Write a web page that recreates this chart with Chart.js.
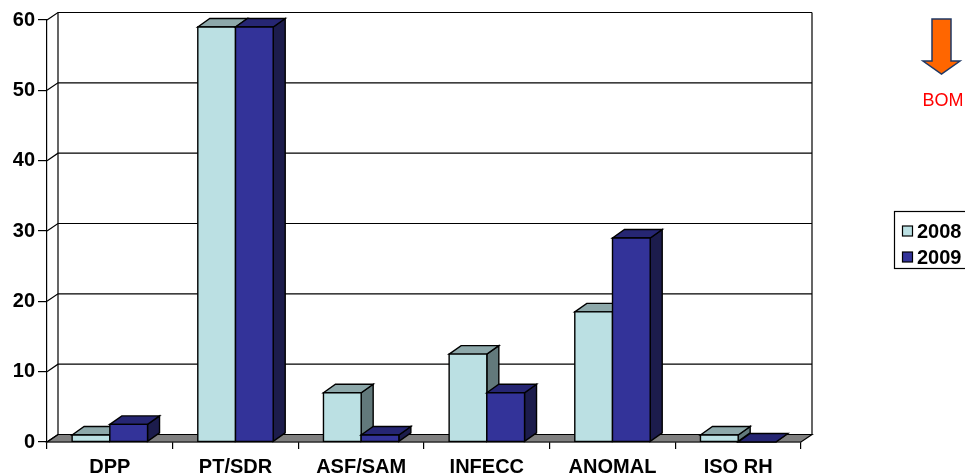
<!DOCTYPE html>
<html>
<head>
<meta charset="utf-8">
<script src="https://cdn.jsdelivr.net/npm/chart.js@4.4.1/dist/chart.umd.min.js"></script>
<style>
html,body{margin:0;padding:0;background:#fff;}
canvas{display:block;}
</style>
</head>
<body>
<canvas id="c" width="965" height="474"></canvas>
<script>
const categories = ['DPP', 'PT/SDR', 'ASF/SAM', 'INFECC', 'ANOMAL', 'ISO RH'];
const values2008 = [1, 59, 7, 12.5, 18.5, 1];
const values2009 = [2.5, 59, 1, 7, 29, 0];
const seriesLabels = ['2008', '2009'];
const yTicks = [0, 10, 20, 30, 40, 50, 60];

const FONT = '"Liberation Sans", Arial, sans-serif';
const faceColors = [
  {front: '#BBE0E3', top: '#8DA8AA', side: '#62797B'},
  {front: '#333399', top: '#262673', side: '#1C1C4C'}
];
const BAR_DX = 12, BAR_DY = -8.5;
const WALL_DX = 11, WALL_DY = -7.5;

const threeD = {
  id: 'threeD',
  beforeDatasetsDraw(chart) {
    const ctx = chart.ctx;
    const ca = chart.chartArea;
    const y = chart.scales.y;
    ctx.save();
    ctx.strokeStyle = '#000';
    ctx.lineWidth = 1.2;
    const y0 = y.getPixelForValue(0);
    // floor
    ctx.beginPath();
    ctx.moveTo(ca.left, y0);
    ctx.lineTo(ca.right, y0);
    ctx.lineTo(ca.right + WALL_DX, y0 + WALL_DY);
    ctx.lineTo(ca.left + WALL_DX, y0 + WALL_DY);
    ctx.closePath();
    ctx.fillStyle = '#808080';
    ctx.fill();
    ctx.stroke();
    // back wall gridlines and left wall diagonals
    yTicks.forEach(v => {
      const py = y.getPixelForValue(v);
      ctx.beginPath();
      ctx.moveTo(ca.left, py);
      ctx.lineTo(ca.left + WALL_DX, py + WALL_DY);
      if (v !== 0) ctx.lineTo(ca.right + WALL_DX, py + WALL_DY);
      ctx.stroke();
    });
    // wall verticals
    const yTop = y.getPixelForValue(yTicks[yTicks.length - 1]) + WALL_DY;
    ctx.beginPath();
    ctx.moveTo(ca.left + WALL_DX, yTop);
    ctx.lineTo(ca.left + WALL_DX, y0 + WALL_DY);
    ctx.moveTo(ca.right + WALL_DX, yTop);
    ctx.lineTo(ca.right + WALL_DX, y0 + WALL_DY);
    ctx.stroke();
    ctx.restore();
  },
  beforeDatasetDraw() { return false; },
  afterDatasetsDraw(chart) {
    const ctx = chart.ctx;
    ctx.save();
    ctx.strokeStyle = '#000';
    ctx.lineWidth = 1.4;
    ctx.lineJoin = 'miter';
    const n = categories.length;
    const metas = chart.data.datasets.map((d, i) => chart.getDatasetMeta(i));
    for (let c = 0; c < n; c++) {
      metas.forEach((meta, di) => {
        const el = meta.data[c];
        const p = el.getProps(['x', 'y', 'width', 'base'], true);
        const l = p.x - p.width / 2, r = p.x + p.width / 2;
        const t = p.y, b = p.base;
        const col = faceColors[di];
        // side
        ctx.beginPath();
        ctx.moveTo(r, t); ctx.lineTo(r + BAR_DX, t + BAR_DY);
        ctx.lineTo(r + BAR_DX, b + BAR_DY); ctx.lineTo(r, b);
        ctx.closePath();
        ctx.fillStyle = col.side; ctx.fill(); ctx.stroke();
        // top
        ctx.beginPath();
        ctx.moveTo(l, t); ctx.lineTo(r, t);
        ctx.lineTo(r + BAR_DX, t + BAR_DY); ctx.lineTo(l + BAR_DX, t + BAR_DY);
        ctx.closePath();
        ctx.fillStyle = col.top; ctx.fill(); ctx.stroke();
        // front
        if (b - t > 0.5) {
          ctx.beginPath();
          ctx.rect(l, t, r - l, b - t);
          ctx.fillStyle = col.front; ctx.fill(); ctx.stroke();
        }
      });
    }
    ctx.restore();
  },
  afterDraw(chart) {
    const ctx = chart.ctx;
    ctx.save();
    // legend
    ctx.strokeStyle = '#000';
    ctx.lineWidth = 1.2;
    ctx.strokeRect(894.5, 211.5, 90, 57);
    ctx.font = 'bold 20px ' + FONT;
    ctx.textBaseline = 'middle';
    ctx.textAlign = 'left';
    chart.data.datasets.forEach((d, i) => {
      const cy = 231 + i * 26;
      ctx.fillStyle = faceColors[i].front;
      ctx.fillRect(902.5, cy - 5, 10, 10);
      ctx.lineWidth = 1.2;
      ctx.strokeRect(902.5, cy - 5, 10, 10);
      ctx.fillStyle = '#000';
      ctx.fillText(d.label, 917, cy + 1);
    });
    // arrow
    ctx.beginPath();
    ctx.moveTo(932, 19); ctx.lineTo(951, 19); ctx.lineTo(951, 61);
    ctx.lineTo(960, 61); ctx.lineTo(941.5, 74); ctx.lineTo(923, 61);
    ctx.lineTo(932, 61); ctx.closePath();
    ctx.fillStyle = '#FF6600';
    ctx.fill();
    ctx.strokeStyle = '#1F3864';
    ctx.lineWidth = 1.5;
    ctx.stroke();
    ctx.fillStyle = '#FF0000';
    ctx.font = '18px ' + FONT;
    ctx.textAlign = 'center';
    ctx.fillText('BOM', 943, 101);
    ctx.restore();
  }
};

new Chart(document.getElementById('c'), {
  type: 'bar',
  data: {
    labels: categories,
    datasets: [
      {label: seriesLabels[0], data: values2008, backgroundColor: faceColors[0].front},
      {label: seriesLabels[1], data: values2009, backgroundColor: faceColors[1].front}
    ]
  },
  options: {
    responsive: false,
    animation: false,
    devicePixelRatio: 1,
    layout: {padding: {left: 0, right: 164, top: 20, bottom: 0}},
    datasets: {bar: {categoryPercentage: 0.6, barPercentage: 1}},
    plugins: {legend: {display: false}, tooltip: {enabled: false}},
    scales: {
      x: {
        grid: {offset: true, drawOnChartArea: false, drawTicks: true, tickLength: 7, color: '#000', lineWidth: 1.2},
        border: {display: true, color: '#000', width: 1.2},
        ticks: {color: '#000', font: {family: FONT, size: 20, weight: 'bold'}, padding: 6, maxRotation: 0, autoSkip: false},
        afterFit(s) { s.height = 32; }
      },
      y: {
        min: 0, max: 60,
        afterBuildTicks(s) { s.ticks = yTicks.map(v => ({value: v})); },
        grid: {drawOnChartArea: false, drawTicks: true, tickLength: 9, color: '#000', lineWidth: 1.2},
        border: {display: true, color: '#000', width: 1.2},
        ticks: {color: '#000', font: {family: FONT, size: 20, weight: 'bold'}, padding: 3},
        afterFit(s) { s.width = 47; }
      }
    }
  },
  plugins: [threeD]
});
</script>
</body>
</html>
